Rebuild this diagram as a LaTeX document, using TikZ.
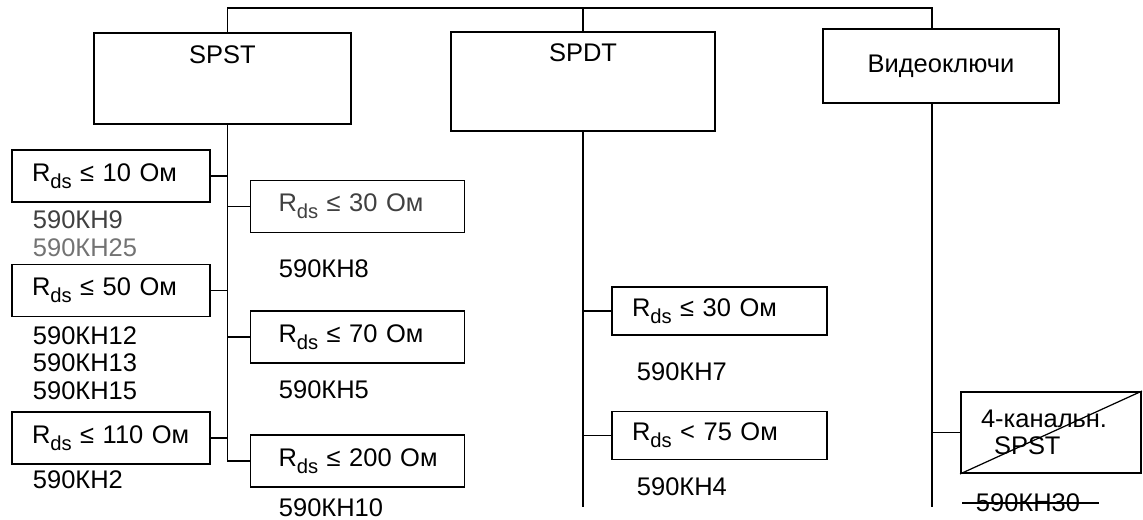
\documentclass[tikz,border=0pt]{standalone}
\usepackage{fontspec}
\setmainfont{Liberation Sans}
\usepackage{tikz}
\newcommand{\Rds}{R\raisebox{-0.5ex}{\fontsize{11.5}{12}\selectfont ds}}

\begin{document}
\begin{tikzpicture}[line width=1.1pt, font=\fontsize{14.5}{15.5}\selectfont,
  head/.style={draw, inner xsep=0pt, inner ysep=0pt},
  rbox/.style={draw, align=left, text width=3.16cm, inner xsep=0.4cm, inner ysep=0pt, minimum height=1.04cm},
  part/.style={anchor=west, inner sep=0pt}]
  \useasboundingbox (0,0) rectangle (22.86,-10.4);
  \def\colL{2.22} \def\colR{7.15} \def\colD{14.39}
  % headings
  \node[head, minimum width=5.14cm, text height=0.62cm, text depth=1.2cm] (spst) at (4.45,-1.57) {SPST};
  \node[head, minimum width=5.28cm, text height=0.6cm, text depth=1.38cm] (spdt) at (11.66,-1.63) {SPDT};
  \node[head, minimum width=4.72cm, minimum height=1.48cm] (vid) at (18.82,-1.32) {Видеоключи};
  \coordinate (bus) at (11.66,-0.16);
  \coordinate (s1) at ([xshift=0.1cm]spst.south);
  \coordinate (e2) at (11.66,-10.14);
  \coordinate (e3) at (18.64,-10.14);
  \draw (s1 |- spst.north) |- (bus) -| (e3 |- vid.north);
  \draw (spdt.north) -- (spdt.north |- bus);
  \draw (spdt.south) -- (e2);
  \draw (e3 |- vid.south) -- (e3);
  % SPST
  \node[rbox] (r10) at (\colL,-3.52) {\Rds~≤~10~Ом};
  \node[rbox] (r50) at (\colL,-5.81) {\Rds~≤~50~Ом};
  \node[rbox] (r110) at (\colL,-8.76) {\Rds~≤~110~Ом};
  \node[rbox, inner xsep=0.56cm, text=black!75] (r30) at (\colR,-4.13) {\Rds~≤~30~Ом};
  \node[rbox, inner xsep=0.56cm] (r70) at (\colR,-6.74) {\Rds~≤~70~Ом};
  \node[rbox, inner xsep=0.56cm] (r200) at (\colR,-9.22) {\Rds~≤~200~Ом};
  \foreach \n in {r10,r50,r110} \draw (\n.east) -- (\n.east -| s1);
  \foreach \n in {r30,r70} \draw (\n.west) -- (\n.west -| s1);
  \draw (s1) |- (r200.west);
  \foreach \t/\y/\c [count=\i] in {590КН9/-4.4/black!75, 590КН25/-4.96/black!55, 590КН12/-6.72/black,
      590КН13/-7.26/black, 590КН15/-7.82/black, 590КН2/-9.6/black}
    \node[part, text=\c] (a\i) at (0.64,\y) {\t};
  \foreach \t/\y [count=\i] in {590КН8/-5.38, 590КН5/-7.8, 590КН10/-10.16}
    \node[part] (b\i) at (5.56,\y) {\t};
  % SPDT
  \node[rbox, text width=3.5cm, minimum height=0.96cm] (q30) at (\colD,-6.22) {\Rds~≤~30~Ом};
  \node[rbox, text width=3.5cm, minimum height=0.96cm] (q75) at (\colD,-8.71) {\Rds~<~75~Ом};
  \foreach \n in {q30,q75} \draw (\n.west) -- (\n.west -| e2);
  \foreach \t/\y [count=\i] in {590КН7/-7.44, 590КН4/-9.74}
    \node[part] (c\i) at (12.72,\y) {\t};
  % video
  \node[rbox, text width=2.8cm, minimum height=1.62cm] (k4) at (21.02,-8.65) {\mbox{4-канальн.}\\\hspace*{0.26cm}SPST};
  \draw (k4.west) -- (k4.west -| e3);
  \draw[line width=0.7pt] (k4.south west) -- (k4.north east);
  \node[part] (k30) at (19.5,-10.06) {590КН30};
  \draw[line width=0.8pt] ([xshift=-0.26cm]k30.west) -- ([xshift=0.36cm]k30.east);
\end{tikzpicture}
\end{document}
